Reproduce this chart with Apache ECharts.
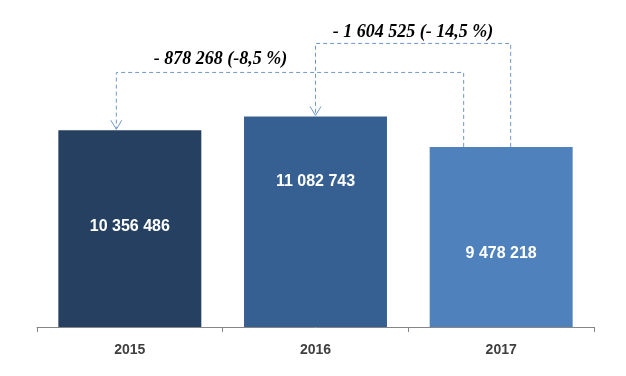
<!DOCTYPE html>
<html><head><meta charset="utf-8">
<script src="https://cdn.jsdelivr.net/npm/echarts@6/dist/echarts.min.js"></script>
<style>html,body{margin:0;padding:0;background:#fff}#c{width:626px;height:376px}</style>
</head><body><div id="c"></div>
<script>
const categories = ['2015', '2016', '2017'];
const values = [10356486, 11082743, 9478218];
const barColors = ['#254061', '#376092', '#4F81BD'];
const labelOffsets = [-2, -40, 17];
// annotations: from category index, to category index, text
const annFrom = [2, 2];
const annTo = [0, 1];
const annText = ['- 878 268 (-8,5 %)', '- 1 604 525 (- 14,5 %)'];

function fmt(v) { return String(v).replace(/\B(?=(\d{3})+(?!\d))/g, ' '); }

// pick a narrow sans if installed
const cv = document.createElement('canvas').getContext('2d');
cv.font = 'bold 20px "Liberation Sans Narrow", monospace';
const wN = cv.measureText('10 356 486').width;
cv.font = 'bold 20px monospace';
const wM = cv.measureText('10 356 486').width;
const hasNarrow = Math.abs(wN - wM) > 1;
const fam = hasNarrow ? '"Liberation Sans Narrow", "Arial Narrow", sans-serif' : '"Liberation Sans", Arial, sans-serif';
const axisSize = hasNarrow ? 17 : 14;
const barSize = hasNarrow ? 19 : 16;

const chart = echarts.init(document.getElementById('c'), null, {renderer: 'canvas'});
chart.setOption({
  animation: false,
  grid: {left: 37, right: 32, top: 23, bottom: 49},
  xAxis: {
    type: 'category', data: categories,
    axisLine: {lineStyle: {color: '#868686', width: 1}},
    axisTick: {show: true, length: 5, inside: false, lineStyle: {color: '#868686'}},
    axisLabel: {color: '#404040', fontWeight: 'bold', fontSize: axisSize, fontFamily: fam, margin: hasNarrow ? 14 : 16}
  },
  yAxis: {type: 'value', min: 0, max: 16000000, show: false, splitLine: {show: false}},
  series: [{
    type: 'bar', barCategoryGap: '23%',
    data: values.map((v, i) => ({
      value: v,
      itemStyle: {color: barColors[i]},
      label: {offset: [0, labelOffsets[i]]}
    })),
    label: {
      show: true, position: 'inside', color: '#fff', fontWeight: 'bold', fontSize: barSize,
      fontFamily: fam,
      formatter: p => fmt(p.value)
    }
  }]
});

// build annotation brackets from axis scales
const lineColor = '#7097CD';
const fromOffsets = [-37.5, 9.5];
const toOffsets = [-13.5, 0];
const levelAbove = [44, 73];
const textDx = [-69.5, 0];
const textDy = [-13, -11];
const graphics = [];
const tops = values.map(v => chart.convertToPixel({yAxisIndex: 0}, v));
const highest = Math.min(...tops);
for (let k = 0; k < annText.length; k++) {
  const fx = chart.convertToPixel({xAxisIndex: 0}, categories[annFrom[k]]) + fromOffsets[k];
  const tx = chart.convertToPixel({xAxisIndex: 0}, categories[annTo[k]]) + toOffsets[k];
  const fy = tops[annFrom[k]];
  const ty = tops[annTo[k]];
  const ly = highest - levelAbove[k];
  graphics.push({
    type: 'polyline', silent: true,
    shape: {points: [[fx, fy], [fx, ly], [tx, ly], [tx, ty - 1]]},
    style: {stroke: lineColor, lineWidth: 1, lineDash: [4, 3], fill: null}
  });
  graphics.push({
    type: 'polyline', silent: true,
    shape: {points: [[tx - 5.5, ty - 10], [tx, ty - 1], [tx + 5.5, ty - 10]]},
    style: {stroke: lineColor, lineWidth: 1, fill: null}
  });
  graphics.push({
    type: 'text', silent: true,
    x: (fx + tx) / 2 + textDx[k], y: ly + textDy[k],
    style: {
      text: annText[k], fill: '#000',
      font: 'italic bold 18px "Liberation Serif", "Times New Roman", serif',
      align: 'center', verticalAlign: 'middle'
    }
  });
}
chart.setOption({graphic: graphics});
</script></body></html>
